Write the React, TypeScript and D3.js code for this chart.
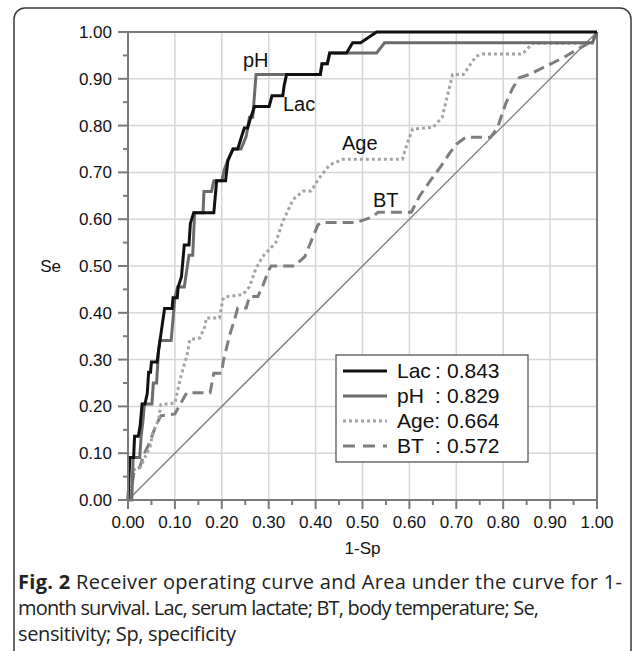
import React from "react";
import * as d3 from "d3";

type Pt = [number, number];

const xTicks = [0, 0.1, 0.2, 0.3, 0.4, 0.5, 0.6, 0.7, 0.8, 0.9, 1.0];
const yTicks = [0, 0.1, 0.2, 0.3, 0.4, 0.5, 0.6, 0.7, 0.8, 0.9, 1.0];
const minorTicks = [0.05, 0.15, 0.25, 0.35, 0.45, 0.55, 0.65, 0.75, 0.85, 0.95];

const lacPts: Pt[] = [
  [0, 0], [0.004, 0.091], [0.012, 0.091], [0.014, 0.136], [0.022, 0.136], [0.026, 0.159],
  [0.03, 0.205], [0.036, 0.205], [0.041, 0.227], [0.044, 0.273], [0.048, 0.273], [0.05, 0.295],
  [0.062, 0.295], [0.065, 0.318], [0.078, 0.409], [0.094, 0.409], [0.096, 0.432], [0.105, 0.432],
  [0.107, 0.455], [0.114, 0.477], [0.12, 0.545], [0.13, 0.545], [0.133, 0.591], [0.14, 0.614],
  [0.183, 0.614], [0.189, 0.682], [0.208, 0.682], [0.213, 0.725], [0.224, 0.75], [0.234, 0.75],
  [0.241, 0.773], [0.248, 0.795], [0.255, 0.795], [0.262, 0.818], [0.27, 0.841], [0.301, 0.841],
  [0.307, 0.864], [0.33, 0.864], [0.333, 0.886], [0.338, 0.909], [0.41, 0.909], [0.414, 0.932],
  [0.425, 0.932], [0.43, 0.955], [0.466, 0.955], [0.479, 0.977], [0.496, 0.977], [0.53, 1.0], [1.0, 1.0],
];

const phPts: Pt[] = [
  [0, 0], [0.008, 0.0], [0.011, 0.091], [0.025, 0.091], [0.028, 0.136], [0.032, 0.17],
  [0.035, 0.205], [0.051, 0.205], [0.054, 0.25], [0.061, 0.25], [0.065, 0.318], [0.068, 0.341],
  [0.092, 0.341], [0.098, 0.409], [0.1, 0.432], [0.106, 0.455], [0.12, 0.455], [0.13, 0.523],
  [0.138, 0.523], [0.142, 0.614], [0.16, 0.614], [0.162, 0.659], [0.178, 0.659], [0.183, 0.682],
  [0.2, 0.682], [0.205, 0.705], [0.213, 0.727], [0.224, 0.75], [0.241, 0.75], [0.252, 0.777],
  [0.259, 0.818], [0.266, 0.818], [0.273, 0.909], [0.41, 0.909], [0.413, 0.932], [0.425, 0.932],
  [0.43, 0.955], [0.53, 0.955], [0.547, 0.977], [0.99, 0.977], [1.0, 1.0],
];

const agePts: Pt[] = [
  [0, 0], [0.003, 0.01], [0.008, 0.03], [0.012, 0.064], [0.026, 0.07], [0.037, 0.093],
  [0.047, 0.114], [0.054, 0.146], [0.065, 0.171], [0.07, 0.204], [0.1, 0.207], [0.105, 0.23],
  [0.112, 0.26], [0.12, 0.29], [0.126, 0.31], [0.132, 0.343], [0.153, 0.346], [0.164, 0.371],
  [0.167, 0.389], [0.195, 0.389], [0.202, 0.428], [0.206, 0.434], [0.245, 0.439], [0.259, 0.456],
  [0.273, 0.495], [0.287, 0.52], [0.315, 0.55], [0.33, 0.595], [0.352, 0.642], [0.373, 0.66],
  [0.39, 0.66], [0.41, 0.691], [0.43, 0.716], [0.458, 0.728], [0.585, 0.728], [0.595, 0.761],
  [0.607, 0.793], [0.65, 0.796], [0.67, 0.818], [0.685, 0.88], [0.692, 0.909], [0.715, 0.909],
  [0.742, 0.948], [0.756, 0.953], [0.841, 0.953], [0.863, 0.976], [0.99, 0.976], [1.0, 1.0],
];

const btPts: Pt[] = [
  [0, 0], [0.008, 0.03], [0.013, 0.06], [0.025, 0.07], [0.035, 0.1], [0.045, 0.12],
  [0.06, 0.16], [0.07, 0.18], [0.1, 0.184], [0.125, 0.229], [0.175, 0.229], [0.183, 0.271],
  [0.2, 0.271], [0.203, 0.296], [0.217, 0.353], [0.227, 0.385], [0.234, 0.41], [0.252, 0.41],
  [0.259, 0.435], [0.277, 0.435], [0.287, 0.457], [0.301, 0.493], [0.305, 0.5], [0.355, 0.5],
  [0.377, 0.52], [0.405, 0.588], [0.413, 0.593], [0.487, 0.593], [0.522, 0.605], [0.533, 0.615],
  [0.604, 0.615], [0.622, 0.65], [0.643, 0.68], [0.667, 0.713], [0.685, 0.74], [0.7, 0.76],
  [0.72, 0.775], [0.773, 0.775], [0.788, 0.796], [0.805, 0.846], [0.82, 0.88], [0.834, 0.902],
  [0.855, 0.909], [0.883, 0.923], [0.926, 0.944], [0.962, 0.965], [0.99, 0.98], [1.0, 1.0],
];

const diagPts: Pt[] = [[0, 0], [1, 1]];

const seriesNames = ["Lac", "pH", "Age", "BT"];
const aucValues = ["0.843", "0.829", "0.664", "0.572"];

const captionBold = "Fig. 2";
const captionLines = [
  " Receiver operating curve and Area under the curve for 1-",
  "month survival. Lac, serum lactate; BT, body temperature; Se,",
  "sensitivity; Sp, specificity",
];

const W = 633;
const H = 651;
const X0 = 128;
const X1 = 597;
const Y0 = 500;
const Y1 = 32;

const tickFont = "'Liberation Sans', Arial, Helvetica, sans-serif";
const capFont = "'Open Sans', sans-serif";

export default function App() {
  const x = d3.scaleLinear().domain([0, 1]).range([X0, X1]);
  const y = d3.scaleLinear().domain([0, 1]).range([Y0, Y1]);
  const line = d3
    .line<Pt>()
    .x((d) => x(d[0]))
    .y((d) => y(d[1]));

  const styles = [
    { pts: lacPts, stroke: "#111111", width: 3, dash: undefined as string | undefined },
    { pts: phPts, stroke: "#6b6b6b", width: 3, dash: undefined as string | undefined },
    { pts: agePts, stroke: "#a3a3a3", width: 3, dash: "3,3" },
    { pts: btPts, stroke: "#7d7d7d", width: 3, dash: "11,6" },
  ];

  const legendX = 336;
  const legendY = 355;
  const legendW = 192;
  const legendH = 107;
  const rowY = (i: number) => legendY + 16 + i * 25;

  return (
    <div style={{ position: "fixed", left: 0, top: 0, width: W, height: H, background: "#fff" }}>
      <svg width={W} height={H} viewBox={`0 0 ${W} ${H}`} style={{ display: "block" }}>
        <rect x={0} y={0} width={W} height={H} fill="#fff" />
        {/* frame */}
        <rect x={14} y={8} width={617} height={H + 20} rx={11} ry={11} fill="none" stroke="#3a3a3a" strokeWidth={1.5} />

        {/* grid */}
        {xTicks.slice(1, -1).map((t) => (
          <line key={"gx" + t} x1={x(t)} x2={x(t)} y1={y(0)} y2={y(1)} stroke="#d6d6d6" strokeWidth={1.5} />
        ))}
        {yTicks.slice(1, -1).map((t) => (
          <line key={"gy" + t} x1={x(0)} x2={x(1)} y1={y(t)} y2={y(t)} stroke="#d6d6d6" strokeWidth={1.5} />
        ))}

        {/* plot border top/right */}
        <line x1={x(0)} x2={x(1)} y1={y(1)} y2={y(1)} stroke="#7a7a7a" strokeWidth={2} />
        <line x1={x(1)} x2={x(1)} y1={y(0)} y2={y(1)} stroke="#7a7a7a" strokeWidth={2} />

        {/* diagonal */}
        <path d={line(diagPts) || ""} fill="none" stroke="#7a7a7a" strokeWidth={1.3} />

        {/* curves (draw back to front) */}
        {[3, 2, 1, 0].map((i) => (
          <path
            key={"c" + i}
            d={line(styles[i].pts) || ""}
            fill="none"
            stroke={styles[i].stroke}
            strokeWidth={styles[i].width}
            strokeDasharray={styles[i].dash}
            strokeLinejoin="miter"
          />
        ))}

        {/* axes */}
        <line x1={x(0)} x2={x(1)} y1={y(0)} y2={y(0)} stroke="#7a7a7a" strokeWidth={2} />
        <line x1={x(0)} x2={x(0)} y1={y(0)} y2={y(1)} stroke="#7a7a7a" strokeWidth={2} />
        {xTicks.map((t) => (
          <g key={"xt" + t}>
            <line x1={x(t)} x2={x(t)} y1={y(0)} y2={y(0) + 9} stroke="#7a7a7a" strokeWidth={2} />
            <text x={x(t)} y={y(0) + 28} textAnchor="middle" fontFamily={tickFont} fontSize={17} fill="#111">
              {t.toFixed(2)}
            </text>
          </g>
        ))}
        {minorTicks.map((t) => (
          <g key={"mt" + t}>
            <line x1={x(t)} x2={x(t)} y1={y(0)} y2={y(0) + 5} stroke="#7a7a7a" strokeWidth={2} />
            <line x1={x(0) - 5} x2={x(0)} y1={y(t)} y2={y(t)} stroke="#7a7a7a" strokeWidth={2} />
          </g>
        ))}
        {yTicks.map((t) => (
          <g key={"yt" + t}>
            <line x1={x(0) - 10} x2={x(0)} y1={y(t)} y2={y(t)} stroke="#7a7a7a" strokeWidth={2} />
            <text x={x(0) - 16} y={y(t) + 6} textAnchor="end" fontFamily={tickFont} fontSize={17} fill="#111">
              {t.toFixed(2)}
            </text>
          </g>
        ))}
        <text x={(X0 + X1) / 2} y={y(0) + 54} textAnchor="middle" fontFamily={tickFont} fontSize={17} fill="#111">
          1-Sp
        </text>
        <text x={61} y={y(0.5) + 6} textAnchor="end" fontFamily={tickFont} fontSize={17} fill="#111">
          Se
        </text>

        {/* curve labels */}
        <text x={243} y={67} fontFamily={tickFont} fontSize={20} fill="#111">pH</text>
        <text x={283} y={111} fontFamily={tickFont} fontSize={20} fill="#111">Lac</text>
        <text x={342} y={150} fontFamily={tickFont} fontSize={20} fill="#111">Age</text>
        <text x={373} y={207} fontFamily={tickFont} fontSize={20} fill="#111">BT</text>

        {/* legend */}
        <rect x={legendX} y={legendY} width={legendW} height={legendH} fill="#fff" stroke="#555" strokeWidth={1.3} />
        {seriesNames.map((name, i) => (
          <g key={"lg" + name}>
            <line
              x1={343}
              x2={387}
              y1={rowY(i)}
              y2={rowY(i)}
              stroke={styles[i].stroke}
              strokeWidth={3}
              strokeDasharray={i === 2 ? "3,3" : i === 3 ? "12,8" : undefined}
            />
            <text x={397} y={rowY(i) + 7} fontFamily={tickFont} fontSize={21} fill="#111">
              {name === "Age" ? "Age:" : name}
            </text>
            {name !== "Age" && (
              <text x={435} y={rowY(i) + 7} fontFamily={tickFont} fontSize={21} fill="#111">:</text>
            )}
            <text x={447} y={rowY(i) + 7} fontFamily={tickFont} fontSize={21} fill="#111">
              {aucValues[i]}
            </text>
          </g>
        ))}

        {/* caption */}
        <text x={18} y={589} fontFamily={capFont} fontSize={20} fill="#222" textLength={604} lengthAdjust="spacing">
          <tspan fontWeight="bold">{captionBold}</tspan>
          <tspan>{captionLines[0]}</tspan>
        </text>
        <text x={18} y={615} fontFamily={capFont} fontSize={20} fill="#222" textLength={521} lengthAdjust="spacing">
          {captionLines[1]}
        </text>
        <text x={18} y={641} fontFamily={capFont} fontSize={20} fill="#222" textLength={218} lengthAdjust="spacing">
          {captionLines[2]}
        </text>
      </svg>
    </div>
  );
}
